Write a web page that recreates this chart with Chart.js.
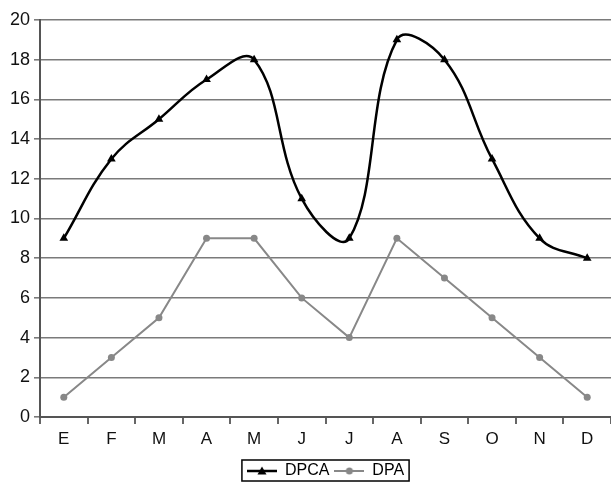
<!DOCTYPE html>
<html>
<head>
<meta charset="utf-8">
<script src="https://cdn.jsdelivr.net/npm/chart.js@4/dist/chart.umd.min.js"></script>
<style>
  html, body { margin: 0; padding: 0; background: #fff; }
  #wrap { width: 611px; height: 482px; }
</style>
</head>
<body>
<div id="wrap"><canvas id="chart"></canvas></div>
<script>
/* ── Data ─────────────────────────────────────────────────────────── */
const MONTHS = ['E', 'F', 'M', 'A', 'M', 'J', 'J', 'A', 'S', 'O', 'N', 'D'];
const DPCA   = [9, 13, 15, 17, 18, 11, 9, 19, 18, 13, 9, 8];
const DPA    = [1, 3, 5, 9, 9, 6, 4, 9, 7, 5, 3, 1];

Chart.defaults.font.family = "'Liberation Sans', Arial, sans-serif";
Chart.defaults.color = '#111';

/* small line + marker image used as legend symbol */
function legendSymbol(color, style, lw) {
  const c = document.createElement('canvas');
  c.width = 30; c.height = 12;
  const g = c.getContext('2d');
  g.strokeStyle = color; g.fillStyle = color; g.lineWidth = lw;
  g.beginPath(); g.moveTo(0, 6); g.lineTo(30, 6); g.stroke();
  g.beginPath();
  if (style === 'triangle') {
    g.moveTo(15, 1.5); g.lineTo(19.5, 9.5); g.lineTo(10.5, 9.5); g.closePath();
  } else {
    g.arc(15, 6, 3.5, 0, Math.PI * 2);
  }
  g.fill();
  return c;
}

/* box round the legend items */
const legendFrame = {
  id: 'legendFrame',
  afterDraw(chart) {
    const boxes = chart.legend && chart.legend.legendHitBoxes;
    if (!boxes || !boxes.length) return;
    const l = Math.min(...boxes.map(b => b.left)) - 5;
    const r = Math.max(...boxes.map(b => b.left + b.width)) + 5;
    const t = Math.min(...boxes.map(b => b.top)) - 3;
    const b = Math.max(...boxes.map(b => b.top + b.height)) + 2;
    const ctx = chart.ctx;
    ctx.save();
    ctx.strokeStyle = '#000';
    ctx.lineWidth = 1.5;
    ctx.strokeRect(l, t, r - l, b - t);
    ctx.restore();
  },
};

new Chart(document.getElementById('chart'), {
  type: 'line',
  data: {
    labels: MONTHS,
    datasets: [
      {
        label:            'DPCA',
        data:             DPCA,
        borderColor:      '#000',
        backgroundColor:  '#000',
        borderWidth:      2.5,
        tension:          0.4,
        pointStyle:       'triangle',
        pointRadius:      5,
        pointBorderWidth: 0,
        legendSymbol:     legendSymbol('#000', 'triangle', 2.5),
      },
      {
        label:            'DPA',
        data:             DPA,
        borderColor:      '#888',
        backgroundColor:  '#888',
        borderWidth:      2,
        tension:          0,
        pointStyle:       'circle',
        pointRadius:      3.5,
        pointBorderWidth: 0,
        legendSymbol:     legendSymbol('#888', 'circle', 2),
      },
    ],
  },
  options: {
    responsive:          true,
    maintainAspectRatio: false,
    animation:           false,
    layout: { autoPadding: false, padding: { top: 20, right: 0, bottom: -7, left: 0 } },
    plugins: {
      tooltip: { enabled: false },
      legend: {
        position: 'bottom',
        fullSize: false,
        labels: {
          usePointStyle:   true,
          pointStyleWidth: 30,
          padding:         5,
          color:           '#000',
          font:            { size: 16 },
          generateLabels: chart => chart.data.datasets.map((ds, i) => ({
            text:         ds.label,
            pointStyle:   ds.legendSymbol,
            fillStyle:    ds.borderColor,
            strokeStyle:  ds.borderColor,
            lineWidth:    0,
            datasetIndex: i,
          })),
        },
      },
    },
    scales: {
      x: {
        offset: true,
        grid: {
          display:         true,
          offset:          true,
          drawOnChartArea: false,
          drawTicks:       true,
          tickLength:      7,
          color:           '#666',
          lineWidth:       2,
        },
        border: { color: '#555', width: 2 },
        ticks:  { color: '#111', font: { size: 17 }, padding: 5, maxRotation: 0, autoSkip: false },
        afterFit: s => { s.height = 41; s.paddingRight = 0; s.paddingLeft = 0; },
      },
      y: {
        min: 0,
        max: 20,
        grid: {
          color:      '#7a7a7a',
          lineWidth:  1.6,
          drawTicks:  true,
          tickLength: 6,
        },
        border: { color: '#555', width: 2 },
        ticks:  { stepSize: 2, color: '#111', font: { size: 18 }, padding: 4 },
        afterFit: s => { s.width = 40; s.paddingTop = 0; s.paddingBottom = 0; },
      },
    },
  },
  plugins: [legendFrame],
});
</script>
</body>
</html>
